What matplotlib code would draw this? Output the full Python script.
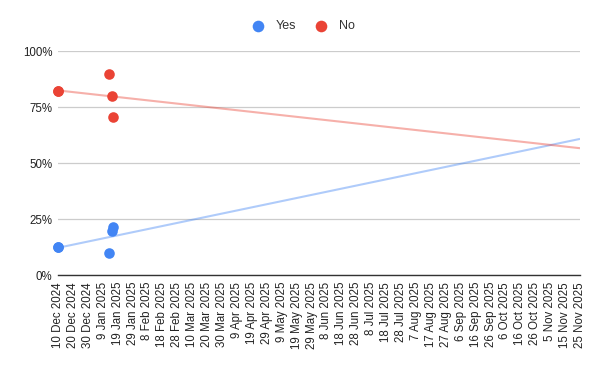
import matplotlib
matplotlib.use("Agg")
import matplotlib.pyplot as plt
import matplotlib.dates as mdates
import numpy as np
import datetime as dt

plt.rcParams['font.family'] = ['Liberation Sans', 'DejaVu Sans']

yes_dates = ["2024-12-10", "2024-12-10", "2025-01-13", "2025-01-15", "2025-01-16"]
yes_values = [0.124, 0.124, 0.098, 0.197, 0.213]
no_dates = ["2024-12-10", "2024-12-10", "2025-01-13", "2025-01-15", "2025-01-16"]
no_values = [0.82, 0.82, 0.897, 0.797, 0.707]
series_names = ["Yes", "No"]
colors = ["#4285F4", "#EA4335"]
x_start = "2024-12-10"
x_end = "2025-11-25"
tick_step_days = 10
y_ticks = [0, 0.25, 0.5, 0.75, 1.0]
y_tick_labels = ["0%", "25%", "50%", "75%", "100%"]

def to_num(s):
    return mdates.date2num(dt.datetime.strptime(s, "%Y-%m-%d"))

fig = plt.figure(figsize=(6, 3.71), dpi=100)
ax = fig.add_axes([58/600, 1-275/371, (580-58)/600, (275-51)/371])

x0 = to_num(x_start)
x1 = to_num(x_end)

handles = []
for name, dates, vals, c in [(series_names[0], yes_dates, yes_values, colors[0]),
                             (series_names[1], no_dates, no_values, colors[1])]:
    xs = np.array([to_num(d) for d in dates])
    ys = np.array(vals)
    m, b = np.polyfit(xs - x0, ys, 1)
    xl = np.array([x0, x1])
    ax.plot(xl, m*(xl - x0) + b, color=c, alpha=0.42, lw=1.5, zorder=2, solid_capstyle='butt')
    h = ax.scatter(xs, ys, s=58, color=c, zorder=3, clip_on=False, label=name, linewidths=0)
    handles.append(h)

ax.set_xlim(x0, x1)
ax.set_ylim(0, 1.0)

ticks = np.arange(x0, x1 + 0.5, tick_step_days)
ax.set_xticks(ticks)
labels = []
for t in ticks:
    d = mdates.num2date(t)
    labels.append(f"{d.day} {d.strftime('%b %Y')}")
ax.set_xticklabels(labels, rotation=90, fontsize=8.3, color="#222222")
ax.set_yticks(y_ticks)
ax.set_yticklabels(y_tick_labels, fontsize=8.3, color="#222222")
ax.tick_params(axis='both', length=0, pad=4)
ax.tick_params(axis='x', pad=5)

for sp in ['top', 'right', 'left']:
    ax.spines[sp].set_visible(False)
ax.spines['bottom'].set_color('#333333')
ax.spines['bottom'].set_linewidth(1)
ax.grid(axis='y', color='#cccccc', linewidth=0.9)
ax.set_axisbelow(True)

fig.legend(handles=handles, labels=series_names, loc='center', bbox_to_anchor=(0.5, 1-26/371),
           ncol=2, frameon=False, fontsize=9, handletextpad=0.4, columnspacing=1.0,
           markerscale=1.1, labelcolor="#333333")

fig.savefig("out.png", dpi=100)
